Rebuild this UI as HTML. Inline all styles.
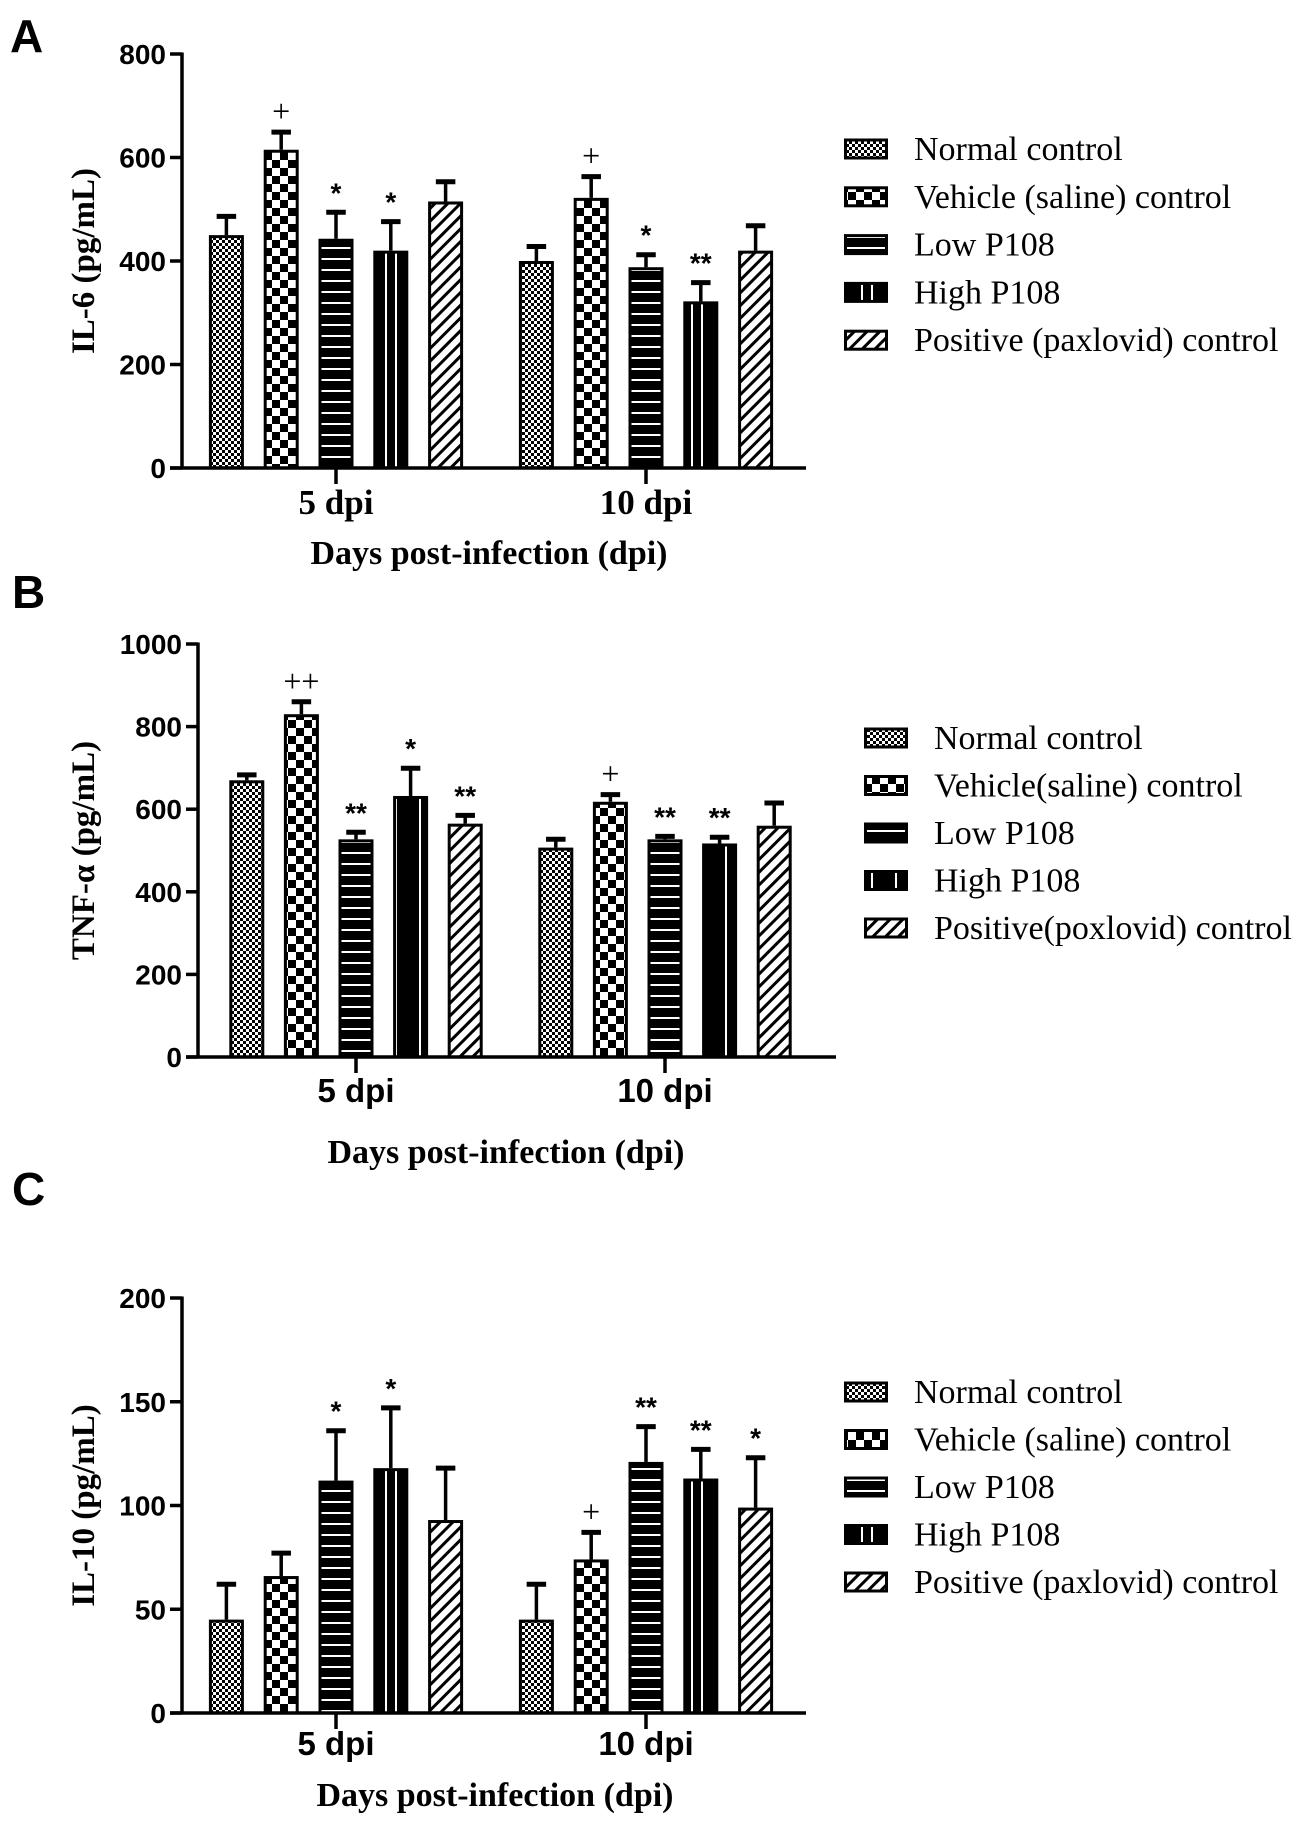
<!DOCTYPE html>
<html><head><meta charset="utf-8"><style>
html,body{margin:0;padding:0;background:#fff}
svg{display:block}
.tick{font-family:"Liberation Sans",sans-serif;font-weight:bold;font-size:28px}
.ser{font-family:"Liberation Serif",serif}
</style></head><body>
<svg id="fig" width="1299" height="1822" viewBox="0 0 1299 1822" xmlns="http://www.w3.org/2000/svg">
<defs>
<pattern id="p0" width="6" height="6" patternUnits="userSpaceOnUse"><rect width="6" height="6" fill="#fff"/><rect width="3" height="3" fill="#000"/><rect x="3" y="3" width="3" height="3" fill="#000"/></pattern>
<pattern id="p1" width="16" height="16" patternUnits="userSpaceOnUse"><rect width="16" height="16" fill="#fff"/><rect width="8" height="8" fill="#000"/><rect x="8" y="8" width="8" height="8" fill="#000"/></pattern>
<pattern id="p2" width="10" height="11" patternUnits="userSpaceOnUse"><rect width="10" height="11" fill="#000"/><rect y="5" width="10" height="2" fill="#fff"/></pattern>
<pattern id="p3" width="34" height="10" patternUnits="userSpaceOnUse"><rect width="34" height="10" fill="#000"/><rect x="11" width="2" height="10" fill="#fff"/><rect x="21" width="2" height="10" fill="#fff"/></pattern>
<pattern id="p4" width="9" height="9" patternUnits="userSpaceOnUse" patternTransform="rotate(45)"><rect width="9" height="9" fill="#fff"/><rect width="3" height="9" fill="#000"/></pattern>
</defs>
<g id="root"></g>
</svg>
<script>
// ---- Panel A: IL-6 ----
const groupsA = ["5 dpi","10 dpi"];
const meansA5 = [450,615,443,420,515];
const errA5 = [40,38,55,60,42];
const meansA10 = [400,522,388,322,420];
const errA10 = [32,45,28,40,52];
const sigA5 = ["","+","*","*",""];
const sigA10 = ["","+","*","**",""];
const ticksA = [0,200,400,600,800];
const legendA = ["Normal control","Vehicle (saline) control","Low P108","High P108","Positive (paxlovid) control"];
// ---- Panel B: TNF-a ----
const groupsB = ["5 dpi","10 dpi"];
const meansB5 = [670,830,527,632,565];
const errB5 = [18,35,22,72,25];
const meansB10 = [507,618,527,517,560];
const errB10 = [25,22,12,20,60];
const sigB5 = ["","++","**","*","**"];
const sigB10 = ["","+","**","**",""];
const ticksB = [0,200,400,600,800,1000];
const legendB = ["Normal control","Vehicle(saline) control","Low P108","High P108","Positive(poxlovid) control"];
// ---- Panel C: IL-10 ----
const groupsC = ["5 dpi","10 dpi"];
const meansC5 = [45,66,112,118,93];
const errC5 = [18,12,25,30,26];
const meansC10 = [45,74,121,113,99];
const errC10 = [18,14,18,15,25];
const sigC5 = ["","","*","*",""];
const sigC10 = ["","+","**","**","*"];
const ticksC = [0,50,100,150,200];
const legendC = ["Normal control","Vehicle (saline) control","Low P108","High P108","Positive (paxlovid) control"];

const NS="http://www.w3.org/2000/svg";
const root=document.getElementById('root');
function mk(tag,attrs,parent,text){const e=document.createElementNS(NS,tag);for(const k in attrs)e.setAttribute(k,attrs[k]);if(text!==undefined)e.textContent=text;(parent||root).appendChild(e);return e;}

function panel(cfg){
  const g=mk('g',{});
  
  
  const ymax=cfg.ticks[cfg.ticks.length-1];
  const y=v=>cfg.y0-(v/ymax)*(cfg.y0-cfg.yTop);
  const x=(gi,bi)=>cfg.centers[gi]+(bi-2)*cfg.step;
  const L=mk('text',{x:cfg.letterX,y:cfg.letterY,'font-family':'"Liberation Sans",sans-serif','font-weight':'bold','font-size':46},g,cfg.letter);
  
  
  const sets=[[cfg.m5,cfg.e5,cfg.s5],[cfg.m10,cfg.e10,cfg.s10]];
  sets.forEach((s,gi)=>{
    s[0].forEach((v,bi)=>{
      const cx=x(gi,bi),w=cfg.bw;
      const top=y(v),et=y(v+s[1][bi]);
      const bg=mk('g',{},g);
      
      
      mk('line',{x1:cx,x2:cx,y1:top,y2:et,stroke:'#000','stroke-width':3.5},bg);
      mk('line',{x1:cx-w/4-1,x2:cx+w/4+1,y1:et+2,y2:et+2,stroke:'#000','stroke-width':5},bg);
      mk('rect',{x:cx-w/2+1.5,y:top+1.5,width:w-3,height:cfg.y0-top-1.5,fill:'url(#p'+bi+')',stroke:'#000','stroke-width':3},bg);
      const plus=s[2][bi].indexOf('+')>=0;
      const t=mk('text',{x:cx,y:et-8,'text-anchor':'middle','font-family':plus?'"Liberation Serif",serif':'"Liberation Sans",sans-serif','font-size':plus?32:28,'font-weight':plus?'normal':'bold'},bg,s[2][bi]);
      
      
    });
  });
  const ya=mk('line',{x1:cfg.ax,x2:cfg.ax,y1:cfg.yTop-1.5,y2:cfg.y0+1.5,stroke:'#000','stroke-width':3.5},g);
  
  
  const xa=mk('line',{x1:cfg.ax-12,x2:cfg.xEnd,y1:cfg.y0,y2:cfg.y0,stroke:'#000','stroke-width':3.5},g);
  
  
  cfg.ticks.forEach(tv=>{
    mk('line',{x1:cfg.ax-12,x2:cfg.ax,y1:y(tv),y2:y(tv),stroke:'#000','stroke-width':3.5},g);
    const t=mk('text',{x:cfg.ax-16,y:y(tv)+10,'text-anchor':'end',class:'tick'},g,String(tv));
    
    
  });
  cfg.groups.forEach((gl,gi)=>{
    mk('line',{x1:cfg.centers[gi],x2:cfg.centers[gi],y1:cfg.y0,y2:cfg.y0+16,stroke:'#000','stroke-width':3.5},g);
    const t=mk('text',{x:cfg.centers[gi],y:cfg.gLabelY,'text-anchor':'middle','font-family':cfg.serifX?'"Liberation Serif",serif':'"Liberation Sans",sans-serif','font-weight':'bold','font-size':cfg.serifX?35:33},g,gl);
    
    
  });
  const xt=mk('text',{x:cfg.xTitleX,y:cfg.xTitleY,'text-anchor':'middle',class:'ser','font-weight':'bold','font-size':34},g,'Days post-infection (dpi)');
  
  
  const cy=(cfg.y0+cfg.yTop)/2;
  const yt=mk('text',{x:0,y:0,transform:'translate(94,'+cy+') rotate(-90)','text-anchor':'middle',class:'ser','font-weight':'bold','font-size':33},g,cfg.yTitle);
  
  
  cfg.legend.forEach((lab,i)=>{
    const ly=cfg.legY+i*cfg.legStep;
    const lg=mk('g',{},g);
    
    
    mk('rect',{x:cfg.legX+1.5,y:ly-9,width:41,height:18,fill:'url(#p'+i+')',stroke:'#000','stroke-width':3},lg);
    mk('text',{x:cfg.legX+70,y:ly+11,class:'ser','font-size':34},lg,lab);
  });
}

panel({name:'panel-a-il6',letter:'A',letterX:10,letterY:52,ax:182,yTop:54,y0:468,xEnd:806,
  centers:[336,646],step:54.8,bw:35,ticks:ticksA,groups:groupsA,m5:meansA5,e5:errA5,m10:meansA10,e10:errA10,s5:sigA5,s10:sigA10,
  gLabelY:514,serifX:true,xTitleX:489,xTitleY:564,yTitle:'IL-6 (pg/mL)',legend:legendA,legX:844,legY:149,legStep:47.8});
panel({name:'panel-b-tnfa',letter:'B',letterX:12,letterY:608,ax:198,yTop:644,y0:1057,xEnd:836,
  centers:[356,665],step:54.6,bw:35,ticks:ticksB,groups:groupsB,m5:meansB5,e5:errB5,m10:meansB10,e10:errB10,s5:sigB5,s10:sigB10,
  gLabelY:1102,serifX:false,xTitleX:506,xTitleY:1163,yTitle:'TNF-α (pg/mL)',legend:legendB,legX:864,legY:738,legStep:47.5});
panel({name:'panel-c-il10',letter:'C',letterX:12,letterY:1205,ax:182,yTop:1298,y0:1713,xEnd:806,
  centers:[336,646],step:54.8,bw:35,ticks:ticksC,groups:groupsC,m5:meansC5,e5:errC5,m10:meansC10,e10:errC10,s5:sigC5,s10:sigC10,
  gLabelY:1755,serifX:false,xTitleX:495,xTitleY:1806,yTitle:'IL-10 (pg/mL)',legend:legendC,legX:844,legY:1392,legStep:47.5});
</script>
</body></html>
